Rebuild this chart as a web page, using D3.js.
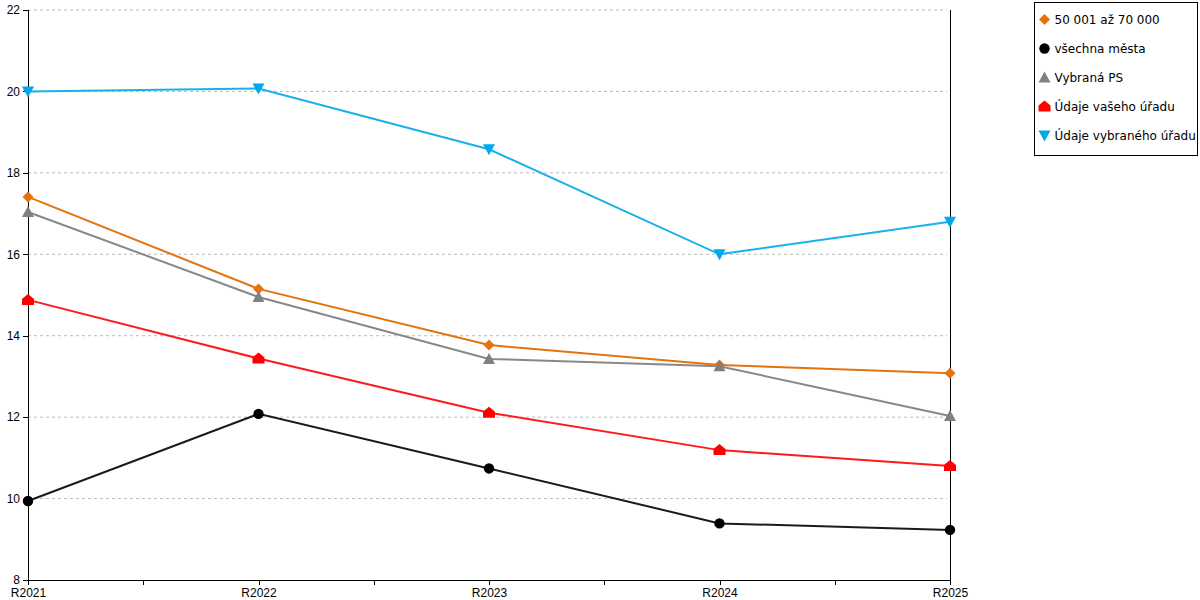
<!DOCTYPE html>
<html>
<head>
<meta charset="utf-8">
<script src="https://cdn.jsdelivr.net/npm/d3@7"></script>
<style>
  body { margin: 0; background: #fff; }
  svg { display: block; font-family: "DejaVu Sans", Verdana, sans-serif; }
  .grid line { stroke: #bbb; stroke-dasharray: 3,3; }
  .axis text { font-size: 12px; fill: #000; }
  .axis path, .axis line { stroke: #000; shape-rendering: crispEdges; }
</style>
</head>
<body>
<svg id="chart" width="1200" height="600"></svg>
<script>
// categories and tick values
const YEARS = ['R2021', 'R2022', 'R2023', 'R2024', 'R2025'];
const Y_TICKS = [8, 10, 12, 14, 16, 18, 20, 22];

// series values
const skupina = [17.41, 15.15, 13.77, 13.28, 13.08];
const vsechnaMesta = [9.94, 12.08, 10.74, 9.39, 9.23];
const vybranaPS = [17.04, 14.95, 13.43, 13.25, 12.03];
const vasUrad = [14.88, 13.44, 12.11, 11.19, 10.80];
const vybranyUrad = [20.0, 20.07, 18.58, 16.0, 16.8];

const SERIES = [
    {name: '50 001 až 70 000', values: skupina, color: '#e2730f', line: '#e2730f', shape: 'diamond'},
    {name: 'všechna města', values: vsechnaMesta, color: '#000', line: '#1a1a1a', shape: 'circle'},
    {name: 'Vybraná PS', values: vybranaPS, color: '#808080', line: '#888', shape: 'triangle'},
    {name: 'Údaje vašeho úřadu', values: vasUrad, color: '#ff0000', line: '#ff1a1a', shape: 'house'},
    {name: 'Údaje vybraného úřadu', values: vybranyUrad, color: '#00a9ec', line: '#19b0ec', shape: 'triangleDown'}
];

const margin = {left: 28, right: 250, top: 10, bottom: 20};
const svg = d3.select('#chart');
const W = 1200, H = 600;

const x = d3.scalePoint()
    .domain(YEARS)
    .range([margin.left, W - margin.right]);
const y = d3.scaleLinear()
    .domain([8, 22])
    .range([H - margin.bottom, margin.top]);

// marker shapes, drawn around (0,0)
function markerPath(shape) {
    switch (shape) {
        case 'diamond': return 'M0,-5.5L5.5,0L0,5.5L-5.5,0Z';
        case 'circle': return d3.symbol(d3.symbolCircle, 85)();
        case 'triangle': return 'M0,-6L6,5L-6,5Z';
        case 'triangleDown': return 'M-6,-5L6,-5L0,6Z';
        case 'house': return 'M0,-6L6,-1L6,5L-6,5L-6,-1Z';
    }
}

// grid
svg.append('g')
    .attr('class', 'grid')
    .selectAll('line')
    .data(Y_TICKS.slice(1))
    .enter()
    .append('line')
    .attr('x1', margin.left)
    .attr('x2', W - margin.right - 3)
    .attr('y1', d => y(d))
    .attr('y2', d => y(d));

// axes
const yAxis = d3.axisLeft(y).tickValues(Y_TICKS).tickSize(5).tickPadding(3);
svg.append('g')
    .attr('class', 'axis')
    .attr('transform', `translate(${margin.left},0)`)
    .call(yAxis);

svg.append('line')
    .attr('x1', W - margin.right + 0.5).attr('x2', W - margin.right + 0.5)
    .attr('y1', y(22)).attr('y2', y(8))
    .attr('stroke', '#000')
    .attr('shape-rendering', 'crispEdges');

const xAxis = d3.axisBottom(x).tickSize(5).tickPadding(3).tickSizeOuter(0);
const xg = svg.append('g')
    .attr('class', 'axis')
    .attr('transform', `translate(0,${y(8)})`)
    .call(xAxis);

// minor ticks halfway between categories
const mids = YEARS.slice(1).map((d, i) => (x(d) + x(YEARS[i])) / 2);
xg.selectAll('.mid')
    .data(mids)
    .enter()
    .append('line')
    .attr('class', 'mid')
    .attr('x1', d => d + 0.5).attr('x2', d => d + 0.5)
    .attr('y1', 0).attr('y2', 5);

// lines and markers
const line = d3.line()
    .x((d, i) => x(YEARS[i]))
    .y(d => y(d));

for (const s of SERIES) {
    const g = svg.append('g');
    g.append('path')
        .attr('d', line(s.values))
        .attr('fill', 'none')
        .attr('stroke', s.line)
        .attr('stroke-width', 2);
    g.selectAll('path.m')
        .data(s.values)
        .enter()
        .append('path')
        .attr('class', 'm')
        .attr('d', markerPath(s.shape))
        .attr('fill', s.color)
        .attr('transform', (d, i) => `translate(${x(YEARS[i])},${y(d)})`);
}

// legend
const legend = svg.append('g').attr('transform', 'translate(1034.5,2.5)');
legend.append('rect')
    .attr('width', 163)
    .attr('height', 153)
    .attr('fill', '#fff')
    .attr('stroke', '#000');
const items = legend.selectAll('g.item')
    .data(SERIES)
    .enter()
    .append('g')
    .attr('class', 'item')
    .attr('transform', (d, i) => `translate(10,${17 + i * 29})`);
items.append('path')
    .attr('d', d => markerPath(d.shape))
    .attr('fill', d => d.color);
items.append('text')
    .attr('x', 10)
    .attr('dy', '0.35em')
    .attr('font-size', 12)
    .text(d => d.name);
</script>
</body>
</html>
